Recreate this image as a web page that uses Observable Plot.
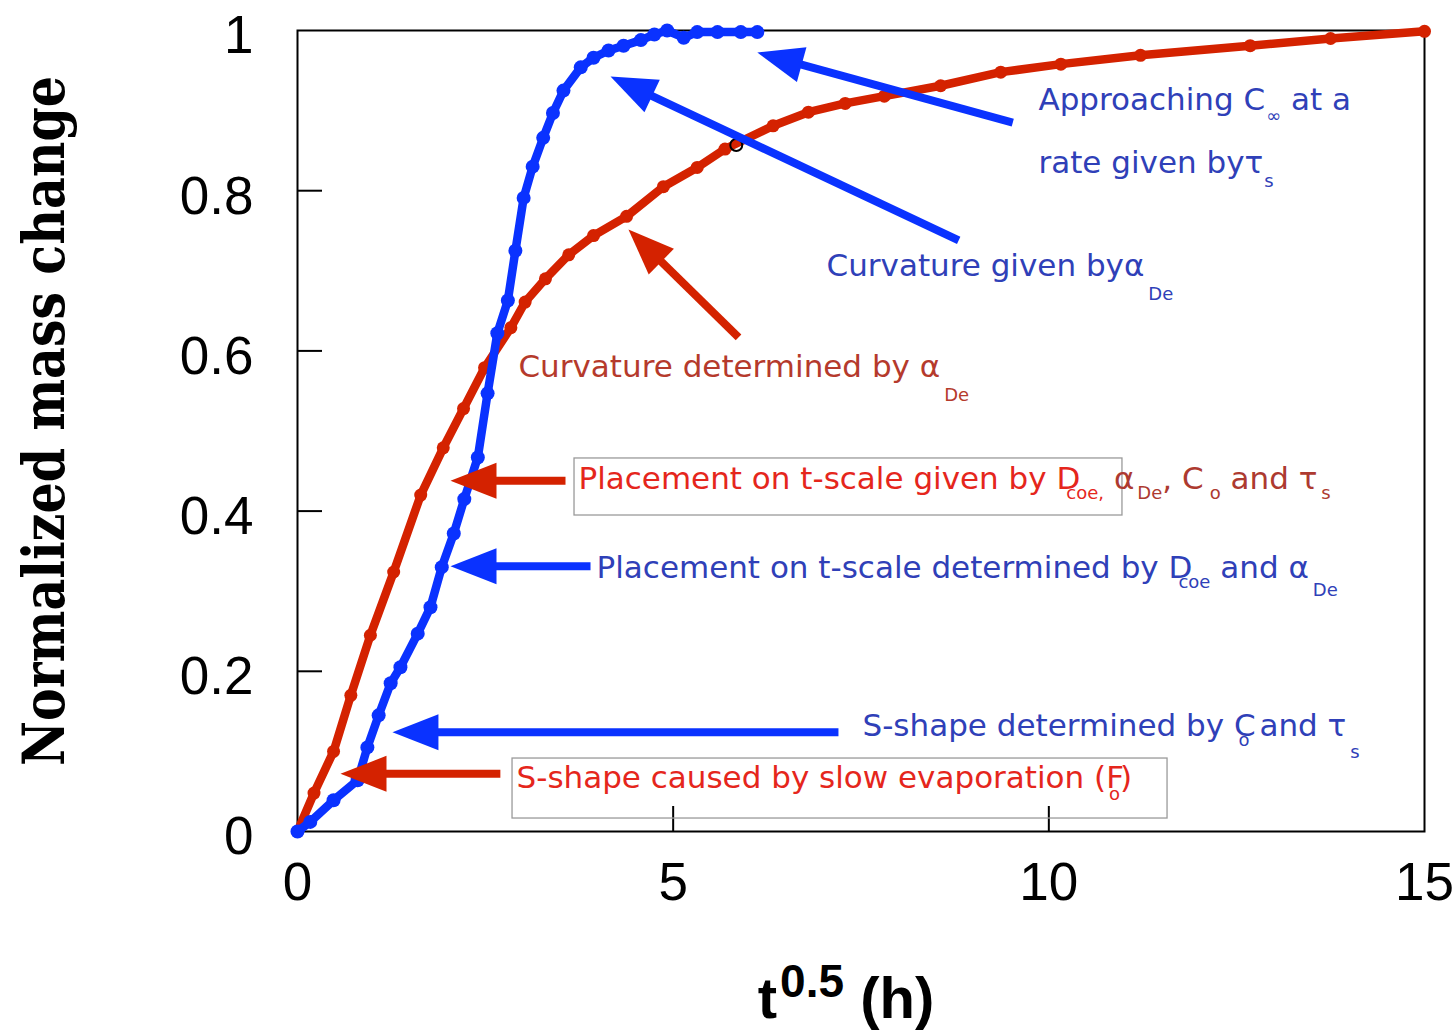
<!DOCTYPE html>
<html>
<head>
<meta charset="utf-8">
<script src="https://cdn.jsdelivr.net/npm/d3@7"></script>
<script src="https://cdn.jsdelivr.net/npm/@observablehq/plot@0.6"></script>
<style>
  body { margin: 0; background: #fff; }
</style>
</head>
<body>
<div id="chart"></div>
<script>
// Normalized mass change against square-root time for two sorption curves.

// Red curve (single-stage uptake with slow evaporation)
const redX = [0, 0.22, 0.48, 0.71, 0.97, 1.28, 1.64, 1.94, 2.21, 2.49, 2.84, 3.03, 3.30, 3.61, 3.94, 4.38, 4.87, 5.32, 5.69, 6.33, 6.80, 7.29, 7.81, 8.56, 9.36, 10.16, 11.22, 12.68, 13.75, 15];
const redY = [0, 0.048, 0.100, 0.170, 0.245, 0.324, 0.420, 0.479, 0.528, 0.579, 0.629, 0.661, 0.690, 0.720, 0.744, 0.768, 0.805, 0.829, 0.852, 0.881, 0.898, 0.909, 0.918, 0.931, 0.948, 0.958, 0.969, 0.981, 0.990, 0.999];

// Blue curve (S-shaped uptake)
const blueX = [0, 0.17, 0.48, 0.80, 0.93, 1.08, 1.24, 1.37, 1.60, 1.77, 1.92, 2.08, 2.22, 2.40, 2.53, 2.66, 2.80, 2.90, 3.01, 3.13, 3.27, 3.40, 3.54, 3.77, 3.94, 4.14, 4.34, 4.57, 4.75, 4.92, 5.14, 5.32, 5.59, 5.90, 6.12];
const blueY = [0, 0.012, 0.039, 0.064, 0.105, 0.145, 0.185, 0.205, 0.247, 0.280, 0.330, 0.372, 0.415, 0.467, 0.547, 0.622, 0.663, 0.725, 0.791, 0.830, 0.866, 0.897, 0.925, 0.954, 0.966, 0.975, 0.981, 0.988, 0.995, 1.0, 0.991, 0.998, 0.998, 0.998, 0.998];

// Open probe marker on the red curve
const probeX = [5.84];
const probeY = [0.857];

// Axis ticks and labels
const xTicks = [0, 5, 10, 15];
const yTicks = [0, 0.2, 0.4, 0.6, 0.8, 1];
const xInnerTicks = [5, 10];
const yInnerTicks = [0.2, 0.4, 0.6, 0.8];
const xLabel = "t^[3,-21]{0.5} (h)";
const yLabel = "Normalized mass change";

// Annotation arrows (tail -> tip, data units)
const arrowTailX = [9.52, 8.80, 5.87, 3.567, 3.90, 7.20, 2.70];
const arrowTailY = [0.885, 0.738, 0.617, 0.438, 0.331, 0.124, 0.072];
const arrowTipX = [6.12, 4.166, 4.405, 2.036, 2.036, 1.264, 0.572];
const arrowTipY = [0.9725, 0.9426, 0.7516, 0.438, 0.331, 0.124, 0.072];
const arrowColor = ["#0a32ff", "#0a32ff", "#d42200", "#d42200", "#0a32ff", "#0a32ff", "#d42200"];

// Annotation notes (markup: _[dx,dy]{sub}, ^[dx,dy]{sup}, ~ toggles secondary colour)
const noteText = [
  "Approaching C_[1,12]{∞} at a",
  "rate given byτ_[1,14]{s}",
  "Curvature given byα_[4,24]{De}",
  "Curvature determined by α_[4,24]{De}",
  "Placement on t-scale given by D_[-14,10]{coe,} ~α_[3,10]{De}, C_[6,10]{o} and τ_[4,10]{s}",
  "Placement on t-scale determined by D_[-14,10]{coe} and α_[4,18]{De}",
  "S-shape determined by C_[-17,10]{o} and τ_[4,22]{s}",
  "S-shape caused by slow evaporation (F_[-15,12]{o})"
];
const noteX = [9.862, 9.862, 7.041, 2.941, 3.740, 3.980, 7.520, 2.915];
const noteY = [0.9126, 0.834, 0.7054, 0.5793, 0.4395, 0.3283, 0.1311, 0.0662];
const noteColor = ["#2f40b8", "#2f40b8", "#2f40b8", "#b53a2c", "#e5261c", "#2f40b8", "#2f40b8", "#e5261c"];
const noteAltColor = ["", "", "", "", "#ad3a30", "", "", ""];

// Framed notes
const boxX1 = [3.687, 2.862];
const boxX2 = [10.98, 11.58];
const boxY1 = [0.3945, 0.0162];
const boxY2 = [0.4657, 0.0911];

// Layout
const W = 1454, H = 1031;
const margin = {top: 30, right: 30, bottom: 200, left: 297};
const innerW = W - margin.left - margin.right;
const innerH = H - margin.top - margin.bottom;
const xDomain = [0, 15], yDomain = [0, 1];
const px = d3.scaleLinear(xDomain, [margin.left, W - margin.right]);
const py = d3.scaleLinear(yDomain, [H - margin.bottom, margin.top]);

const RED = "#d42200", BLUE = "#0a32ff";
const headLen = 46, headHalf = 18;

// Arrow shafts end at the head's base; heads are filled triangles drawn as custom symbols.
const arrows = arrowTipX.map((_, i) => {
  const tx = px(arrowTipX[i]), ty = py(arrowTipY[i]);
  const sx = px(arrowTailX[i]), sy = py(arrowTailY[i]);
  const len = Math.hypot(sx - tx, sy - ty);
  const ux = (sx - tx) / len, uy = (sy - ty) / len;
  const nx = -uy, ny = ux;
  const bx = tx + ux * (headLen - 4), by = ty + uy * (headLen - 4);
  return {
    x1: arrowTailX[i], y1: arrowTailY[i],
    x2: px.invert(bx), y2: py.invert(by),
    tipX: arrowTipX[i], tipY: arrowTipY[i],
    color: arrowColor[i],
    symbol: {
      draw(ctx) {
        ctx.moveTo(0, 0);
        ctx.lineTo(ux * headLen + nx * headHalf, uy * headLen + ny * headHalf);
        ctx.lineTo(ux * headLen - nx * headHalf, uy * headLen - ny * headHalf);
        ctx.closePath();
      }
    }
  };
});

const red = redX.map((x, i) => ({x, y: redY[i]}));
const blue = blueX.map((x, i) => ({x, y: blueY[i]}));
const probe = probeX.map((x, i) => ({x, y: probeY[i]}));
const notes = noteText.map((text, i) => ({text, x: noteX[i], y: noteY[i], color: noteColor[i], alt: noteAltColor[i]}));
const boxes = boxX1.map((x1, i) => ({x1, x2: boxX2[i], y1: boxY1[i], y2: boxY2[i]}));

const fmt = d => String(d);

const plot = Plot.plot({
  width: W,
  height: H,
  marginTop: margin.top,
  marginRight: margin.right,
  marginBottom: margin.bottom,
  marginLeft: margin.left,
  style: {fontFamily: "'Liberation Sans', Arial, sans-serif", fontSize: "53px", background: "#fff", color: "#000"},
  x: {domain: xDomain, axis: null},
  y: {domain: yDomain, axis: null},
  marks: [
    Plot.frame({stroke: "#000", strokeWidth: 2}),
    Plot.tickY(yInnerTicks, {y: d => d, stroke: "#000", strokeWidth: 2, insetRight: innerW - 25}),
    Plot.tickX(xInnerTicks, {x: d => d, stroke: "#000", strokeWidth: 2, insetTop: innerH - 25}),
    Plot.text(yTicks, {x: 0, y: d => d, text: fmt, textAnchor: "end", dx: -44, dy: 6, fontSize: 53}),
    Plot.text(xTicks, {x: d => d, y: 0, text: fmt, lineAnchor: "top", dy: 31, fontSize: 53}),
    Plot.text([yLabel], {text: d => d, frameAnchor: "left", textAnchor: "middle", lineAnchor: "middle",
      rotate: -90, dx: -252, dy: -10,
      fontSize: 57, fontWeight: "bold", fontFamily: "'DejaVu Serif', serif"}),
    Plot.text([xLabel], {text: d => d, frameAnchor: "bottom", textAnchor: "middle", lineAnchor: "middle",
      dx: -15, dy: 168, fontSize: 58, fontWeight: "bold"}),
    // curves
    Plot.line(red, {x: "x", y: "y", stroke: RED, strokeWidth: 8.5, strokeLinejoin: "round"}),
    Plot.dot(red, {x: "x", y: "y", r: 6.5, fill: RED}),
    Plot.dot(probe, {x: "x", y: "y", r: 6, stroke: "#000", strokeWidth: 2, fill: "none"}),
    Plot.line(blue, {x: "x", y: "y", stroke: BLUE, strokeWidth: 8.5, strokeLinejoin: "round"}),
    Plot.dot(blue, {x: "x", y: "y", r: 7, fill: BLUE}),
    // note frames
    ...boxes.map(b => Plot.rect([b], {x1: "x1", x2: "x2", y1: "y1", y2: "y2", fill: "none", stroke: "#9a9a9a", strokeWidth: 1.3})),
    // arrows
    ...arrows.map(a => Plot.link([a], {x1: "x1", y1: "y1", x2: "x2", y2: "y2", stroke: a.color, strokeWidth: 8})),
    ...arrows.map(a => Plot.dot([a], {x: "tipX", y: "tipY", symbol: a.symbol, r: 10, fill: a.color, stroke: "none"})),
    // notes
    ...notes.map(n => Plot.text([n], {x: "x", y: "y", text: "text", fill: n.color, textAnchor: "start",
      fontSize: 31, fontFamily: "'DejaVu Sans', sans-serif"}))
  ]
});

// Turn the small markup in text marks into tspans with sub/superscripts.
const richSpecs = new Map(notes.map(n => [n.text, {small: 18, alt: n.alt}]));
richSpecs.set(xLabel, {small: 46, alt: ""});

function richify(t, small, alt) {
  const NS = "http://www.w3.org/2000/svg";
  const src = t.textContent;
  t.textContent = "";
  const re = /([_^])(?:\[(-?[\d.]+),(-?[\d.]+)\])?\{([^}]*)\}|~/g;
  let last = 0, shift = 0, altOn = false, m;
  const put = (str, dx, dy, size) => {
    if (!str) return;
    const s = document.createElementNS(NS, "tspan");
    s.textContent = str;
    if (dx) s.setAttribute("dx", dx);
    if (dy !== shift) { s.setAttribute("dy", dy - shift); shift = dy; }
    if (size) s.setAttribute("font-size", size);
    if (altOn && alt) s.setAttribute("fill", alt);
    t.appendChild(s);
  };
  while ((m = re.exec(src))) {
    put(src.slice(last, m.index), 0, 0);
    if (m[0] === "~") altOn = !altOn;
    else put(m[4], +(m[2] || 0), +(m[3] || (m[1] === "_" ? 10 : -16)), small);
    last = re.lastIndex;
  }
  put(src.slice(last), 0, 0);
}

plot.querySelectorAll("text").forEach(t => {
  const spec = richSpecs.get(t.textContent);
  if (spec) richify(t, spec.small, spec.alt);
  if (t.textContent === yLabel) {
    // condensed serif title along the axis
    t.setAttribute("textLength", 690);
    t.setAttribute("lengthAdjust", "spacingAndGlyphs");
  }
});
plot.setAttribute("style", (plot.getAttribute("style") || "") + ";white-space:pre;");

document.getElementById("chart").appendChild(plot);
</script>
</body>
</html>
